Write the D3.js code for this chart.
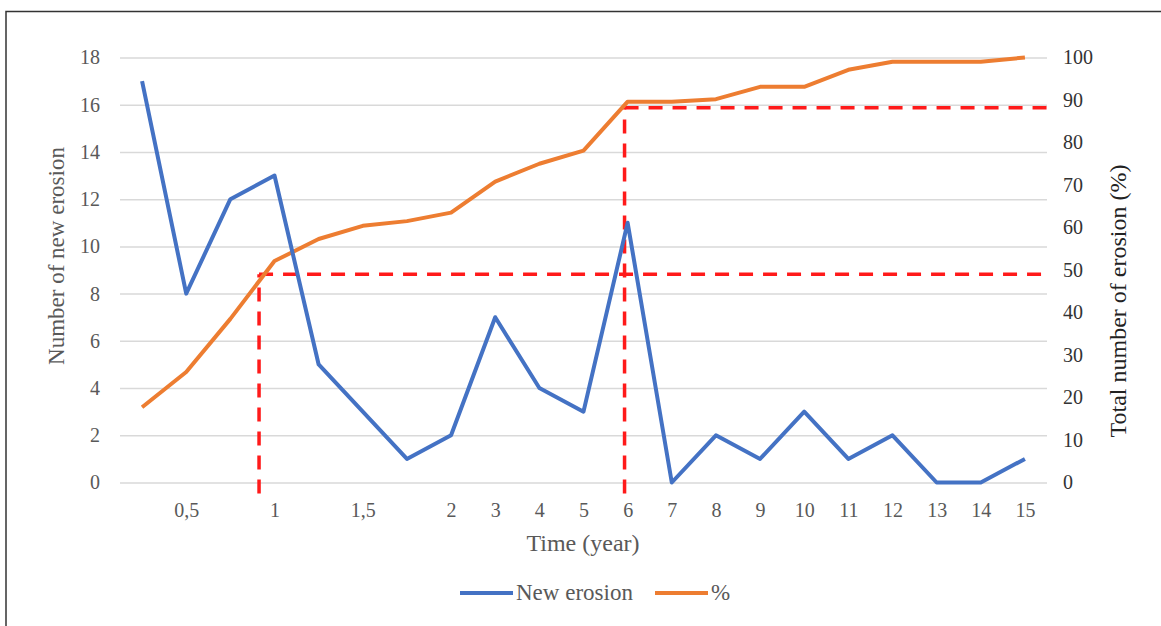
<!DOCTYPE html>
<html>
<head>
<meta charset="utf-8">
<script src="https://cdn.jsdelivr.net/npm/d3@7"></script>
<style>
  body { margin: 0; background: #fff; }
  svg { display: block; }
  svg text { font-family: "Liberation Serif", "Times New Roman", serif; }
  .grid line { stroke: #d9d9d9; stroke-width: 1.5; }
</style>
</head>
<body>
<svg id="chart" width="1161" height="626"></svg>
<script>
// time categories (years) and the labels shown under them
const times = [0.25, 0.5, 0.75, 1, 1.25, 1.5, 1.75, 2, 3, 4, 5, 6, 7, 8, 9, 10, 11, 12, 13, 14, 15];
const timeLabels = ["", "0,5", "", "1", "", "1,5", "", "2", "3", "4", "5", "6", "7", "8", "9", "10", "11", "12", "13", "14", "15"];

// new erosion count per time step (left axis)
const newErosion = [17, 8, 12, 13, 5, 3, 1, 2, 7, 4, 3, 11, 0, 2, 1, 3, 1, 2, 0, 0, 1];
// cumulative share of erosion, % (right axis)
const cumulativePct = [17.7, 26, 38.5, 52.1, 57.3, 60.4, 61.5, 63.5, 70.8, 75, 78.1, 89.6, 89.6, 90.2, 93.1, 93.1, 97.1, 99, 99, 99, 100];

const leftTicks = [0, 2, 4, 6, 8, 10, 12, 14, 16, 18];
const rightTicks = [0, 10, 20, 30, 40, 50, 60, 70, 80, 90, 100];

// red dashed reference markers: position along the category axis (index units) and % level
const markerPos = [2.65, 10.93];
const markerPct = [49, 88.2];

const svg = d3.select('#chart');
const margin = { left: 120, right: 114, top: 57.5, bottom: 143.5 };
const width = +svg.attr('width');
const height = +svg.attr('height');
const plotW = width - margin.left - margin.right;
const plotH = height - margin.top - margin.bottom;

// outer frame (runs off the right and bottom edge like the scan)
svg.append('rect')
  .attr('x', 6).attr('y', 11.5)
  .attr('width', 1200).attr('height', 700)
  .attr('fill', '#fff').attr('stroke', '#333').attr('stroke-width', 1.5);

const g = svg.append('g').attr('transform', `translate(${margin.left},${margin.top})`);

const x = d3.scalePoint().domain(d3.range(times.length)).range([0, plotW]).padding(0.5);
const step = x.step();
const xPos = i => x(0) + i * step; // fractional index positions
const y = d3.scaleLinear().domain([0, 18]).range([plotH, 0]);
const y2 = d3.scaleLinear().domain([0, 100]).range([plotH, 0]);

const serif = '"Liberation Serif", "Times New Roman", serif';

// left axis + gridlines
g.append('g')
  .attr('class', 'grid')
  .call(d3.axisLeft(y).tickValues(leftTicks).tickSize(-plotW).tickPadding(20))
  .call(a => a.select('.domain').remove())
  .call(a => a.selectAll('text').attr('fill', '#595959').attr('font-size', 20).style('font-family', serif));

// right axis
g.append('g')
  .attr('transform', `translate(${plotW},0)`)
  .call(d3.axisRight(y2).tickValues(rightTicks).tickSize(0).tickPadding(16))
  .call(a => a.select('.domain').remove())
  .call(a => a.selectAll('text').attr('fill', '#333').attr('font-size', 20).style('font-family', serif));

// bottom axis
g.append('g')
  .attr('transform', `translate(0,${plotH})`)
  .call(d3.axisBottom(x).tickFormat(i => timeLabels[i]).tickSize(0).tickPadding(20))
  .call(a => a.select('.domain').remove())
  .call(a => a.selectAll('text').attr('fill', '#595959').attr('font-size', 20).style('font-family', serif));

// red dashed reference lines
const dash = '14,10';
markerPos.forEach((p, k) => {
  const mx = xPos(p);
  const my = y2(markerPct[k]);
  g.append('line')
    .attr('x1', mx).attr('x2', mx)
    .attr('y1', plotH + 11).attr('y2', my)
    .attr('stroke', '#ff1a1a').attr('stroke-width', 3.5).attr('stroke-dasharray', dash);
  g.append('line')
    .attr('x1', mx).attr('x2', plotW + 2)
    .attr('y1', my).attr('y2', my)
    .attr('stroke', '#ff1a1a').attr('stroke-width', 3.5).attr('stroke-dasharray', dash);
});

// series lines
const blueLine = d3.line().x((d, i) => x(i)).y(d => y(d));
const orangeLine = d3.line().x((d, i) => x(i)).y(d => y2(d));

g.append('path')
  .datum(cumulativePct)
  .attr('fill', 'none').attr('stroke', '#ed7d31').attr('stroke-width', 4)
  .attr('stroke-linejoin', 'round')
  .attr('d', orangeLine);

g.append('path')
  .datum(newErosion)
  .attr('fill', 'none').attr('stroke', '#4472c4').attr('stroke-width', 4)
  .attr('stroke-linejoin', 'round')
  .attr('d', blueLine);

// axis titles
svg.append('text')
  .attr('transform', 'translate(64,256) rotate(-90)')
  .attr('text-anchor', 'middle')
  .attr('font-size', 23).attr('fill', '#595959')
  .text('Number of new erosion');

svg.append('text')
  .attr('transform', 'translate(1126,301) rotate(-90)')
  .attr('text-anchor', 'middle')
  .attr('font-size', 24).attr('fill', '#222')
  .text('Total number of erosion (%)');

svg.append('text')
  .attr('x', 583).attr('y', 551)
  .attr('text-anchor', 'middle')
  .attr('font-size', 24).attr('fill', '#595959')
  .text('Time (year)');

// legend
const legend = [
  { name: 'New erosion', color: '#4472c4', x: 460 },
  { name: '%', color: '#ed7d31', x: 655 }
];
const lg = svg.append('g');
legend.forEach(d => {
  lg.append('line')
    .attr('x1', d.x).attr('x2', d.x + 53)
    .attr('y1', 593).attr('y2', 593)
    .attr('stroke', d.color).attr('stroke-width', 4);
  lg.append('text')
    .attr('x', d.x + 56).attr('y', 600)
    .attr('font-size', 23).attr('fill', '#595959')
    .text(d.name);
});
</script>
</body>
</html>
